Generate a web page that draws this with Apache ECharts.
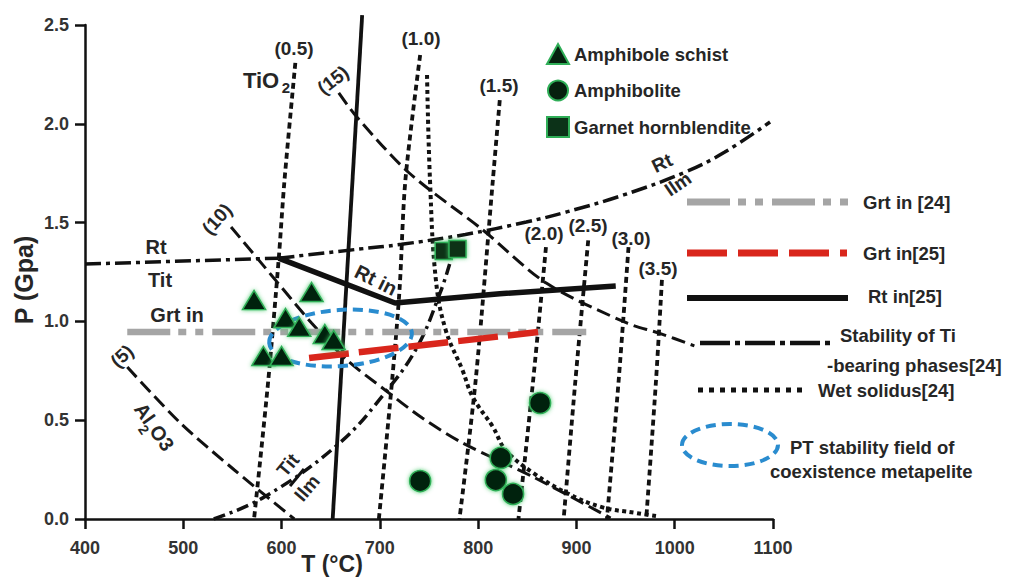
<!DOCTYPE html>
<html><head><meta charset="utf-8">
<script src="https://cdn.jsdelivr.net/npm/echarts@6/dist/echarts.min.js"></script>
<style>html,body{margin:0;padding:0;background:#fff}#c{width:1026px;height:577px}</style>
</head><body><div id="c"></div>
<script>
// ---------- axis ranges / ticks ----------
const xRange = [400, 1100];
const xStep = 100;
const yRange = [0, 2.5];
const yStep = 0.5;

// ---------- boundaries [T (°C), P (GPa)] ----------
const steepSolid   = [[652, 0], [682, 2.55]];
const rtTitLine    = [[400, 1.29], [597, 1.32]];
const rtIlmLine    = [[597, 1.32], [679, 1.366], [722, 1.39], [787, 1.44], [849, 1.503], [890, 1.554], [948, 1.64], [1011, 1.756], [1051, 1.857], [1097, 2.009]];
const titIlmLine   = [[531, 0], [582, 0.11], [658, 0.38], [707, 0.65], [738, 0.87], [761, 1.14], [771, 1.29]];
const rtIn25       = [[597, 1.32], [715.5, 1.093], [822, 1.14], [940, 1.179]];
const grtIn24      = [[443, 0.946], [910, 0.946]];
const grtIn25      = [[628, 0.815], [861, 0.946]];
const wetSolidus   = [[748, 2.247], [751, 1.716], [757, 1.21], [767, 0.956], [784, 0.754], [794.5, 0.617], [815, 0.466], [828, 0.349], [856, 0.233], [890, 0.132], [925, 0.061], [961, 0.03], [981, 0.015]];
// isopleths (dotted)
const iso05 = [[614, 2.308], [603, 1.716], [597, 1.311], [586.5, 0.703], [572, 0]];
const iso10 = [[741, 2.348], [726, 1.716], [720, 1.159], [712.5, 0.703], [699, 0]];
const iso15 = [[822, 2.12], [815, 1.716], [797.5, 0.703], [781, 0]];
const iso20 = [[869, 1.376], [856, 0.703], [841, 0]];
const iso25 = [[912, 1.41], [899, 0.703], [887, 0]];
const iso30 = [[953, 1.376], [943, 0.703], [931, 0]];
const iso35 = [[987, 1.21], [981, 0.703], [971, 0]];
// Al2O3 isopleths (dashed)
const al5  = [[443, 0.769], [497, 0.486], [552, 0.248], [613, 0]];
const al10 = [[548.6, 1.478], [589.5, 1.235], [630.5, 0.992], [666.4, 0.805], [705.3, 0.653], [743.2, 0.511], [784.2, 0.385], [855.9, 0.213], [934.8, 0.005]];
const al15 = [[658.2, 2.156], [676.6, 2.034], [729.9, 1.751], [804.7, 1.463], [869.3, 1.194], [951.2, 0.992], [984, 0.941], [1020, 0.876]];
// PT stability field of coexisting metapelite: [T centre, P centre, T half-width, P half-height]
const ptField = [[660, 0.916, 72.7, 0.142]];

// ---------- samples ----------
const amphiboleSchist    = [[572, 1.108], [630.5, 1.149], [604, 1.017], [618, 0.972], [644, 0.936], [653, 0.906], [581.5, 0.825], [600, 0.825]];
const amphibolite        = [[741, 0.192], [823, 0.309], [818, 0.197], [835.5, 0.127], [863, 0.587]];
const garnetHornblendite = [[765, 1.356], [779, 1.366]];

const FONT = '"Liberation Sans", Arial, sans-serif';
const TXT = '#262626';

function ln(name, data, color, width, dash, smooth, extra) {
  return Object.assign({
    type: 'line', name: name, data: data, symbol: 'none', showSymbol: false,
    smooth: smooth, silent: true, animation: false, z: 2,
    lineStyle: { color: color, width: width, type: dash, cap: 'butt', opacity: 1 }
  }, extra || {});
}
const DOT = [6, 4];
const DOT2 = [4, 3.5];
const DASH = [14, 6];
const DASHDOT = [16, 5, 4, 5];

function t(text, x, y, size, rot, align) {
  return {
    type: 'text', x: x, y: y, rotation: rot || 0, silent: true, z: 50,
    style: {
      text: text, x: 0, y: 0, fill: TXT,
      font: 'bold ' + size + 'px ' + FONT,
      textAlign: align || 'center', align: align || 'center',
      textVerticalAlign: 'middle', verticalAlign: 'middle'
    }
  };
}
function gl(x1, y1, x2, y2, color, w, dash) {
  return { type: 'line', silent: true, z: 50, shape: { x1: x1, y1: y1, x2: x2, y2: y2 },
    style: { stroke: color, lineWidth: w, lineDash: dash || null, lineCap: 'butt' } };
}

const markerBase = {
  color: '#06200e', borderColor: '#2fae57', borderWidth: 1.5, opacity: 1,
  shadowBlur: 4, shadowColor: 'rgba(60,200,100,0.9)'
};

const chart = echarts.init(document.getElementById('c'), null, { renderer: 'svg' });
chart.setOption({
  animation: false,
  backgroundColor: '#fff',
  grid: { left: 85, right: 253, top: 25, bottom: 58, containLabel: false, outerBoundsMode: 'none' },
  xAxis: {
    type: 'value', min: xRange[0], max: xRange[1], interval: xStep,
    axisLine: { show: true, onZero: false, lineStyle: { color: '#111', width: 2.5 } },
    axisTick: { show: true, length: 10, lineStyle: { color: '#111', width: 2.5 } },
    splitLine: { show: false },
    axisLabel: { margin: 20, color: '#333', fontSize: 18, fontWeight: 'bold', fontFamily: FONT,
      formatter: function (v) { return String(v); } }
  },
  yAxis: {
    type: 'value', min: yRange[0], max: yRange[1], interval: yStep,
    axisLine: { show: true, onZero: false, lineStyle: { color: '#111', width: 2.5 } },
    axisTick: { show: true, length: 10, lineStyle: { color: '#111', width: 2.5 } },
    splitLine: { show: false },
    axisLabel: { margin: 16, color: '#333', fontSize: 18, fontWeight: 'bold', fontFamily: FONT,
      formatter: function (v) { return v.toFixed(1); } }
  },
  legend: {
    data: ['Amphibole schist', 'Amphibolite', 'Garnet hornblendite'],
    orient: 'vertical', left: 541, top: 38, itemWidth: 22, itemHeight: 20, itemGap: 14.5,
    selectedMode: false,
    textStyle: { color: TXT, fontSize: 18.5, fontWeight: 'bold', fontFamily: FONT }
  },
  series: [
    ln('(5)', al5, '#111', 3, DASH, 0.3),
    ln('(10)', al10, '#111', 3, DASH, 0.3),
    ln('(15)', al15, '#111', 3, DASH, 0.3),
    ln('(0.5)', iso05, '#111', 3.8, DOT, 0.3),
    ln('(1.0)', iso10, '#111', 3.8, DOT, 0.3),
    ln('(1.5)', iso15, '#111', 3.8, DOT, 0.3),
    ln('(2.0)', iso20, '#111', 3.8, DOT, 0.3),
    ln('(2.5)', iso25, '#111', 3.8, DOT, 0.3),
    ln('(3.0)', iso30, '#111', 3.8, DOT, 0.3),
    ln('(3.5)', iso35, '#111', 3.8, DOT, 0.3),
    ln('Wet solidus', wetSolidus, '#111', 4, DOT2, 0.4),
    ln('Rt/Tit', rtTitLine, '#111', 3.5, DASHDOT, false),
    ln('Rt/Ilm', rtIlmLine, '#111', 3.5, DASHDOT, 0.4),
    ln('Tit/Ilm', titIlmLine, '#111', 3.5, [12, 5, 3, 5], 0.4),
    ln('steep', steepSolid, '#111', 3.8, 'solid', false, { clip: false, z: 3 }),
    ln('Grt in[24]', grtIn24, '#a5a5a5', 6.5, [43, 8, 8, 9, 8, 9], false, { z: 3 }),
    ln('Grt in[25]', grtIn25, '#d9261c', 6.5, [40, 10], false, { z: 4 }),
    ln('Rt in[25]', rtIn25, '#111', 5.5, 'solid', false, { z: 3 }),
    {
      type: 'custom', name: 'PT field', data: ptField, silent: true, z: 5,
      renderItem: function (params, api) {
        const c = api.coord([api.value(0), api.value(1)]);
        const s = api.size([api.value(2), api.value(3)]);
        return { type: 'ellipse', x: c[0], y: c[1], rotation: 0.07,
          shape: { cx: 0, cy: 0, rx: s[0], ry: s[1] },
          style: { fill: 'none', stroke: '#2a8ccf', lineWidth: 4, lineDash: [10, 6] } };
      }
    },
    { type: 'scatter', name: 'Amphibole schist', data: amphiboleSchist, symbol: 'triangle', symbolSize: [23, 19], itemStyle: markerBase, z: 6, silent: true },
    { type: 'scatter', name: 'Amphibolite', data: amphibolite, symbol: 'circle', symbolSize: 21, itemStyle: markerBase, z: 6, silent: true },
    { type: 'scatter', name: 'Garnet hornblendite', data: garnetHornblendite, symbol: 'rect', symbolSize: 17, itemStyle: Object.assign({}, markerBase, { color: '#0c3218' }), z: 6, silent: true }
  ],
  graphic: [
    // axis titles
    t('P (Gpa)', 24, 280, 25, Math.PI / 2),
    t('T (°C)', 332, 564, 23),
    // boundary / isopleth labels
    t('(0.5)', 294, 48, 19),
    t('TiO', 261, 80, 22), t('2', 286, 87, 15),
    t('(15)', 333, 80, 19, 0.66),
    t('(1.0)', 421, 38, 19),
    t('(1.5)', 499, 85, 19),
    t('(10)', 217, 219, 19, 0.84),
    t('(5)', 122, 356, 19, 0.75),
    t('Rt', 156, 247, 20), t('Tit', 160, 280, 20),
    t('Grt in', 177, 315, 20),
    t('Rt in', 376, 280, 20, -0.46),
    t('(2.0)', 544, 233, 19), t('(2.5)', 588, 225, 19), t('(3.0)', 631, 238, 19), t('(3.5)', 658, 268, 19),
    t('Rt', 662, 163, 19, 0.45), t('Ilm', 678, 184, 19, 0.6),
    t('Tit', 288, 465, 19, 0.87), t('Ilm', 307, 488, 19, 0.87),
    gl(290, 486, 304, 469, '#111', 3),
    {
      type: 'group', x: 155, y: 428, rotation: -0.96, silent: true,
      children: [t('Al', -18, 0, 20), t('2', -5, 10, 14), t('O3', 12, 0, 20)]
    },
    // right-hand legend
    gl(687, 202, 848, 202, '#a5a5a5', 7, [43, 8, 8, 9, 8, 9]),
    t('Grt in [24]', 863, 202, 18.5, 0, 'left'),
    gl(687, 253, 847, 253, '#d9261c', 7, [40, 11]),
    t('Grt in[25]', 863, 253, 18.5, 0, 'left'),
    gl(687, 298, 848, 298, '#111', 6),
    t('Rt in[25]', 868, 296, 18.5, 0, 'left'),
    gl(700, 343, 832, 343, '#111', 4.5, [30, 5, 5, 5]),
    t('Stability of Ti', 840, 335, 18.5, 0, 'left'),
    t('-bearing phases[24]', 827, 365, 18.5, 0, 'left'),
    gl(698, 390, 807, 390, '#111', 5, [5, 6]),
    t('Wet solidus[24]', 818, 390, 18.5, 0, 'left'),
    { type: 'ellipse', silent: true, z: 50, shape: { cx: 730, cy: 445, rx: 48, ry: 21 },
      style: { fill: 'none', stroke: '#2a8ccf', lineWidth: 4, lineDash: [10, 6] } },
    t('PT stability field of', 790, 447, 18.5, 0, 'left'),
    t('coexistence metapelite', 770, 471, 18.5, 0, 'left')
  ]
});
</script></body></html>
